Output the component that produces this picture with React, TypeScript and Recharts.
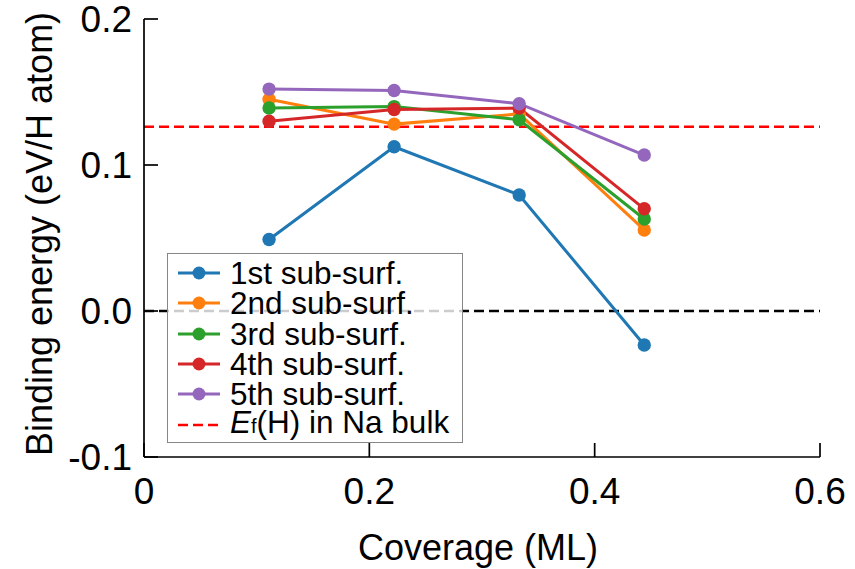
import { LineChart, Line, XAxis, YAxis, ReferenceLine } from "recharts";

const FONT = '"Liberation Sans", Arial, Helvetica, sans-serif';

// H coverage in monolayers (1/9 ... 4/9 ML)
const coverage = [0.111, 0.222, 0.333, 0.444];

// binding energy per H atom (eV), one array per sub-surface layer
const firstSub = [0.049, 0.1125, 0.0795, -0.0233];
const secondSub = [0.145, 0.128, 0.135, 0.0555];
const thirdSub = [0.139, 0.14, 0.131, 0.063];
const fourthSub = [0.13, 0.138, 0.139, 0.07];
const fifthSub = [0.152, 0.151, 0.142, 0.1068];

// formation energy of H in bulk Na
const bulkEf = 0.1262;

const xTicks = [0, 0.2, 0.4, 0.6];
const yTicks = [-0.1, 0, 0.1, 0.2];

const seriesNames = ["1st sub-surf.", "2nd sub-surf.", "3rd sub-surf.", "4th sub-surf.", "5th sub-surf."];
const seriesColors = ["#1f77b4", "#ff7f0e", "#2ca02c", "#d62728", "#9467bd"];
const seriesKeys = ["s1", "s2", "s3", "s4", "s5"];

const data = coverage.map((x, i) => ({
  x,
  s1: firstSub[i],
  s2: secondSub[i],
  s3: thirdSub[i],
  s4: fourthSub[i],
  s5: fifthSub[i],
}));

const fmtX = (v: number) => (v === 0 ? "0" : v.toFixed(1));
const fmtY = (v: number) => v.toFixed(1);

const XTick = ({ x, y, payload }: any) => (
  <text x={x} y={y} dy="0.36em" textAnchor="middle" fontSize={37} fill="#000" fontFamily={FONT}>
    {fmtX(payload.value)}
  </text>
);

const YTick = ({ x, y, payload }: any) => (
  <text x={x} y={y} dy="0.36em" textAnchor="end" fontSize={37} fill="#000" fontFamily={FONT}>
    {fmtY(payload.value)}
  </text>
);

const XTitle = ({ viewBox }: any) => (
  <text
    x={viewBox.x + viewBox.width / 2 - 4}
    y={viewBox.y + 103}
    textAnchor="middle"
    fontSize={36}
    fill="#000"
    fontFamily={FONT}
  >
    Coverage (ML)
  </text>
);

const YTitle = ({ viewBox }: any) => {
  const cx = viewBox.x + 52;
  const cy = viewBox.y + viewBox.height / 2 - 4;
  return (
    <text
      x={cx}
      y={cy}
      transform={`rotate(-90 ${cx} ${cy})`}
      textAnchor="middle"
      fontSize={36}
      fill="#000"
      fontFamily={FONT}
    >
      Binding energy (eV/H atom)
    </text>
  );
};

// legend box sits over the plot, lower left
const LegendBox = () => {
  const row = { display: "flex", alignItems: "center", height: 30.3, whiteSpace: "nowrap" } as const;
  return (
    <div
      style={{
        position: "absolute",
        left: 167,
        top: 253,
        border: "1.5px solid #878787",
        background: "rgba(255,255,255,0.8)",
        padding: "4px 0 0 0",
        width: 296,
        height: 190,
        boxSizing: "border-box",
        fontFamily: FONT,
        fontSize: 31.5,
        lineHeight: "30.3px",
        color: "#000",
      }}
    >
      {seriesNames.map((name, i) => (
        <div key={name} style={row}>
          <svg width={62} height={30} style={{ flex: "none" }}>
            <line x1={10} x2={52} y1={15} y2={15} stroke={seriesColors[i]} strokeWidth={3} />
            <circle cx={31} cy={15} r={6.5} fill={seriesColors[i]} />
          </svg>
          <span>{name}</span>
        </div>
      ))}
      <div style={row}>
        <svg width={62} height={30} style={{ flex: "none" }}>
          <line x1={10} x2={52} y1={15} y2={15} stroke="#ff0000" strokeWidth={2.5} strokeDasharray="10 5" />
        </svg>
        <span>
          <i>E</i>
          <span style={{ fontSize: 20 }}>f</span>(H) in Na bulk
        </span>
      </div>
    </div>
  );
};

export default function App() {
  return (
    <div style={{ position: "absolute", left: 0, top: 0, width: 855, height: 569 }}>
      <LineChart width={855} height={569} data={data} margin={{ top: 19, right: 35, bottom: 0, left: 0 }}>
        <XAxis
          dataKey="x"
          type="number"
          domain={[0, 0.6]}
          ticks={xTicks}
          height={112}
          tickSize={-14}
          tickMargin={48}
          tick={<XTick />}
          tickLine={{ stroke: "#000", strokeWidth: 1.7 }}
          axisLine={{ stroke: "#000", strokeWidth: 1.7 }}
          label={{ content: <XTitle /> }}
        />
        <XAxis
          xAxisId="top"
          orientation="top"
          type="number"
          domain={[0, 0.6]}
          height={0}
          tick={false}
          tickLine={false}
          axisLine={{ stroke: "#000", strokeWidth: 1.7 }}
        />
        <YAxis
          type="number"
          domain={[-0.1, 0.2]}
          ticks={yTicks}
          width={144}
          tickSize={-14}
          tickMargin={26}
          tick={<YTick />}
          tickLine={{ stroke: "#000", strokeWidth: 1.7 }}
          axisLine={{ stroke: "#000", strokeWidth: 1.7 }}
          label={{ content: <YTitle /> }}
        />
        <YAxis
          yAxisId="right"
          orientation="right"
          type="number"
          domain={[-0.1, 0.2]}
          width={0}
          tick={false}
          tickLine={false}
          axisLine={{ stroke: "#000", strokeWidth: 1.7 }}
        />
        <ReferenceLine y={0} stroke="#000" strokeWidth={2.4} strokeDasharray="10 5" />
        <ReferenceLine y={bulkEf} stroke="#ff0000" strokeWidth={2.6} strokeDasharray="10 5" />
        {seriesKeys.map((k, i) => (
          <Line
            key={k}
            dataKey={k}
            name={seriesNames[i]}
            stroke={seriesColors[i]}
            strokeWidth={3}
            dot={{ r: 6.7, fill: seriesColors[i], stroke: seriesColors[i], strokeWidth: 0 }}
            activeDot={false}
            isAnimationActive={false}
          />
        ))}
      </LineChart>
      <LegendBox />
    </div>
  );
}
